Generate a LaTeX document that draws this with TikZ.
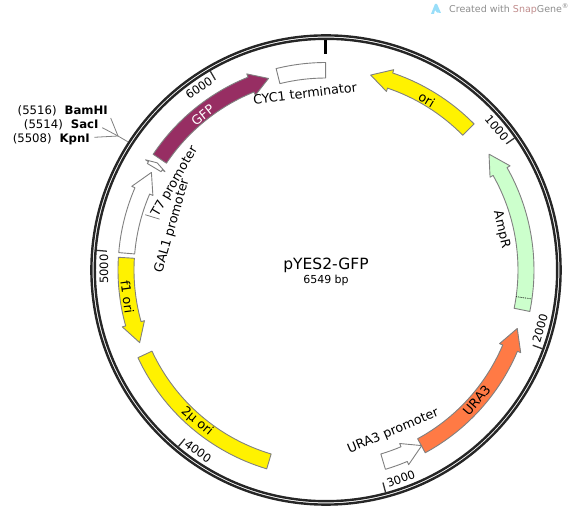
\documentclass[tikz,border=0pt]{standalone}
\usepackage{fontspec}
\setmainfont{DejaVu Sans}
\definecolor{gfpred}{HTML}{972E63}
\definecolor{uraorange}{HTML}{FF7A45}
\definecolor{ampgreen}{HTML}{CCFFCC}
\definecolor{edgegray}{HTML}{808080}
\tikzset{
    feat/.style={draw=edgegray, line width=0.9pt, line join=round},
    lab/.style={font=\fontsize{12.7}{15}\selectfont, inner sep=0pt},
    ticklab/.style={font=\fontsize{11.5}{13}\selectfont, inner sep=0pt},
    site/.style={font=\fontsize{11.7}{14}\selectfont, inner sep=0pt},
    leader/.style={draw=edgegray, line width=0.8pt}
}
% arrow along the ring, angles clockwise from the top
\newcommand{\arcarrow}[4]{%
  \filldraw[feat, fill=#4] ({90-#1}:208) arc[start angle=90-#1, end angle=90-#2, radius=208]
    -- ({90-#2}:211.5) -- ({90-#3}:200) -- ({90-#2}:188.5) -- ({90-#2}:192)
    arc[start angle=90-#2, end angle=90-#1, radius=192] -- cycle;
}
\newcommand{\arcbox}[3]{%
  \filldraw[feat, fill=#3] ({90-#1}:207.5) arc[start angle=90-#1, end angle=90-#2, radius=207.5]
    -- ({90-#2}:192) arc[start angle=90-#2, end angle=90-#1, radius=192] -- cycle;
}
\begin{document}
\begin{tikzpicture}[x=1pt,y=1pt, line cap=butt]
\useasboundingbox (-326,-262) rectangle (250,270);

% ring
\draw[line width=2.4pt, color=black!85] (0,0) circle (234.6);
\draw[line width=2.4pt, color=black!85] (0,0) circle (231.2);
\draw[line width=3pt] (90:230) -- (90:216);

% ticks
\foreach \ang/\txt/\rot in {55/1000/-50, 110/2000/74, 165/3000/20, 219.9/4000/-35, 274.9/5000/90, 329.8/6000/34} {
  \draw[line width=1.3pt, color=black!80] ({90-\ang}:230) -- ({90-\ang}:220);
  \node[ticklab, rotate=\rot] at ({90-\ang+4.7}:222) {\txt};
}

% features
\arcarrow{45.4}{18.7}{12.9}{yellow}
\arcarrow{101.5}{60.5}{54.6}{ampgreen}
\arcarrow{151.5}{113}{107}{uraorange}
\arcarrow{163.4}{157}{151.4}{white}
\arcbox{245}{196.6}{yellow}
\arcarrow{273.5}{254.4}{248.7}{yellow}
\arcarrow{274.8}{293.3}{299.2}{white}
\arcarrow{300.8}{301.4}{302.4}{white}
\arcarrow{303.8}{338}{343.3}{gfpred}
\arcbox{346.1}{359.9}{white}
\draw[densely dotted, line width=0.8pt] ({90-98}:192) -- ({90-98}:208);

\node[lab, rotate=-30.6] at ({90-30.6}:198) {ori};
\node[lab, rotate=-77] at ({90-77}:180) {AmpR};
\node[lab, rotate=49] at ({90-130.8}:199) {URA3};
\node[lab, rotate=22.6] at ({90-157.4}:175) {URA3 promoter};
\node[lab, rotate=-40] at ({90-220.4}:199) {2µ ori};
\node[lab, rotate=-82.3] at ({90-262.3}:200.5) {f1 ori};
\node[lab, rotate=74] at ({90-286}:160) {GAL1 promoter};
\node[lab, rotate=59.7] at ({90-300.3}:175) {T7 promoter};
\node[lab, rotate=38.5, color=white] at ({90-321.5}:198) {GFP};
\node[lab, rotate=6.8] at ({90-353.2}:178) {CYC1 terminator};

% leader of the GAL1 label
\coordinate (galA) at ({90-287}:189);
\coordinate (galB) at ({90-287}:174);
\draw[leader] (galA) -- (galB);

% centre
\node[font=\fontsize{15.5}{18}\selectfont, inner sep=0pt] (title) at (0,5) {pYES2-GFP};
\node[font=\fontsize{11}{13}\selectfont, inner sep=0pt] (size) at (0,-10) {6549 bp};

% sites
\node[site, anchor=east] (bam) at (-218,159.3) {(5516)\hspace{8pt}\textbf{BamHI}};
\node[site, anchor=east] (sac) at (-227.3,145) {(5514)\hspace{8pt}\textbf{SacI}};
\node[site, anchor=east] (kpn) at (-236,131) {(5508)\hspace{8pt}\textbf{KpnI}};
\coordinate (bamend) at (-215.3,152);
\coordinate (sacend) at (-223.7,142.3);
\coordinate (kpnend) at (-231.7,132.7);
\coordinate (hub) at (-208,134);
\coordinate (cut) at (-198.3,128.3);
\draw[leader] (bamend) -- (hub);
\draw[leader] (sacend) -- (hub);
\draw[leader] (kpnend) -- (hub);
\draw[leader] (hub) -- (cut);

% watermark
\fill[cyan!40] (105,256) -- (109,266) -- (111,266) -- (115,257) -- (111,257.5) -- (109,260) -- (108,256) -- cycle;
\node[font=\fontsize{9.5}{12}\selectfont, color=black!45, anchor=west, inner sep=0pt] (mark) at (123,261) {Created with \textcolor{red!45!black!45}{Snap}Gene\textsuperscript{®}};
\end{tikzpicture}
\end{document}
